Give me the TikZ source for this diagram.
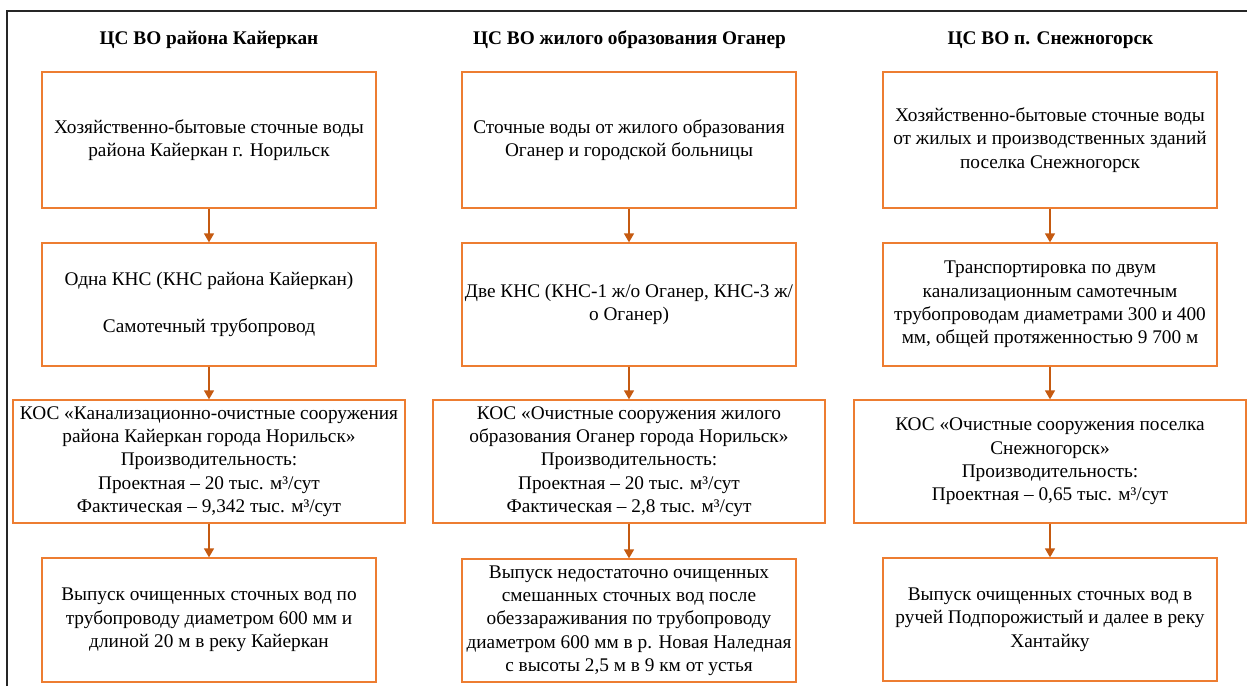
\documentclass[tikz,border=0pt]{standalone}
\usepackage{fontspec}
\setmainfont{Liberation Serif}
\usetikzlibrary{arrows.meta}
\definecolor{boxline}{HTML}{ED7D31}
\definecolor{arrline}{HTML}{C55A11}
\tikzset{
  stage/.style={draw=boxline, line width=1.3pt, fill=white, align=center,
    inner sep=0pt, font=\fontsize{19.3}{23.3}\selectfont},
  narrow/.style={stage, minimum width=334pt},
  wide/.style={stage, minimum width=392pt},
  heading/.style={font=\bfseries\fontsize{19.3}{22}\selectfont, inner sep=0pt},
  flow/.style={draw=arrline, line width=1.5pt, -{Triangle[length=9pt,width=10pt]}},
}
\begin{document}
\begin{tikzpicture}[x=1pt, y=-1pt]
\useasboundingbox (0,0) rectangle (1247,686);
% outer frame (top and left edges)
\draw[line width=2pt, black!85] (7,686) -- (7,11) -- (1247,11);

% column 1
\node[heading] (t1) at (209,40) {ЦС ВО района Кайеркан};
\node[narrow, minimum height=136pt] (a1) at (209,140)
  {Хозяйственно-бытовые сточные воды\\района Кайеркан г. Норильск};
\node[narrow, minimum height=123pt] (a2) at (209,304.5)
  {Одна КНС (КНС района Кайеркан)\\[23.3pt]Самотечный трубопровод};
\node[wide, minimum height=123pt] (a3) at (209,461.5)
  {КОС «Канализационно-очистные сооружения\\района Кайеркан города Норильск»\\Производительность:\\Проектная – 20 тыс. м³/сут\\Фактическая – 9,342 тыс. м³/сут};
\node[narrow, minimum height=124pt] (a4) at (209,620)
  {Выпуск очищенных сточных вод по\\трубопроводу диаметром 600 мм и\\длиной 20 м в реку Кайеркан};

% column 2
\node[heading] (t2) at (629.5,40) {ЦС ВО жилого образования Оганер};
\node[narrow, minimum height=136pt] (b1) at (629,140)
  {Сточные воды от жилого образования\\Оганер и городской больницы};
\node[narrow, minimum height=123pt] (b2) at (629,304.5)
  {Две КНС (КНС-1 ж/о Оганер, КНС-3 ж/\\о Оганер)};
\node[wide, minimum height=123pt] (b3) at (629,461.5)
  {КОС «Очистные сооружения жилого\\образования Оганер города Норильск»\\Производительность:\\Проектная – 20 тыс. м³/сут\\Фактическая – 2,8 тыс. м³/сут};
\node[narrow, minimum height=123pt] (b4) at (629,620.5)
  {Выпуск недостаточно очищенных\\смешанных сточных вод после\\обеззараживания по трубопроводу\\диаметром 600 мм в р. Новая Наледная\\с высоты 2,5 м в 9 км от устья};

% column 3
\node[heading] (t3) at (1050.5,40) {ЦС ВО п. Снежногорск};
\node[narrow, minimum height=136pt] (c1) at (1050,140)
  {Хозяйственно-бытовые сточные воды\\от жилых и производственных зданий\\поселка Снежногорск};
\node[narrow, minimum height=123pt] (c2) at (1050,304.5)
  {Транспортировка по двум\\канализационным самотечным\\трубопроводам диаметрами 300 и 400\\мм, общей протяженностью 9 700 м};
\node[wide, minimum height=123pt] (c3) at (1050,461.5)
  {КОС «Очистные сооружения поселка\\Снежногорск»\\Производительность:\\Проектная – 0,65 тыс. м³/сут};
\node[narrow, minimum height=123pt] (c4) at (1050,619.5)
  {Выпуск очищенных сточных вод в\\ручей Подпорожистый и далее в реку\\Хантайку};

% flow arrows
\foreach \col in {a,b,c}{
  \draw[flow] (\col1) -- (\col2);
  \draw[flow] (\col2) -- (\col3);
  \draw[flow] (\col3) -- (\col4);
}
\end{tikzpicture}
\end{document}
